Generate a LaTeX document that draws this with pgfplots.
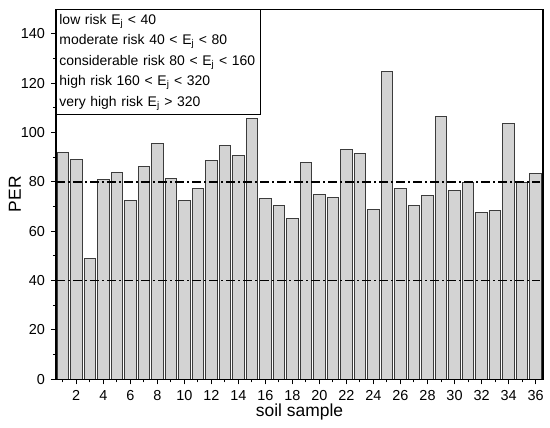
\documentclass[border=0pt]{standalone}
\usepackage{pgfplots}
\pgfplotsset{compat=1.18}
\usepackage{fontspec}
\setmainfont{Liberation Sans}
\usetikzlibrary{calc}
\definecolor{barfill}{RGB}{211,211,211}
\definecolor{baredge}{RGB}{60,60,60}
\begin{document}
\begin{tikzpicture}
\begin{axis}[name=ax, scale only axis, width=487bp, height=370bp,
  xmin=0.5, xmax=36.55, ymin=0, ymax=150,
  axis line style={line width=1.2bp},
  xtick={2,4,...,36}, minor xtick={1,3,...,35},
  ytick={0,20,...,140}, minor ytick={10,30,...,130},
  tick align=outside, tick pos=left,
  major tick length=5bp, minor tick length=3bp,
  every tick/.style={black, line width=1bp},
  ticklabel style={font=\fontsize{14.5}{16}\selectfont},
  xticklabel style={yshift=-2.5bp},
  yticklabel style={xshift=-2.5bp},
  /pgf/number format/assume math mode=true,
  xlabel={soil sample}, ylabel={PER},
  label style={font=\fontsize{17.5}{20}\selectfont},
  xlabel style={at={(axis description cs:0.5,-0.0876)}, anchor=center},
  ylabel style={at={(axis description cs:-0.0842,0.5)}, anchor=center},
  clip=false,
]
\addplot[ybar, bar width=0.85, fill=barfill, draw=baredge, line width=1bp] coordinates {
(1,91.8) (2,89.1) (3,49.1) (4,80.9) (5,83.7) (6,72.4) (7,86.4) (8,95.7) (9,81.6)
(10,72.3) (11,77.2) (12,88.7) (13,94.8) (14,90.8) (15,105.6) (16,73.4) (17,70.4) (18,65.0)
(19,87.7) (20,74.8) (21,73.5) (22,93.2) (23,91.5) (24,69.0) (25,124.9) (26,77.2) (27,70.4)
(28,74.6) (29,106.4) (30,76.5) (31,79.9) (32,67.5) (33,68.3) (34,103.5) (35,79.9) (36,83.4)
};
\addplot[black, line width=1.5bp, dash pattern=on 9bp off 3bp on 2bp off 3bp] coordinates {(0.5,80) (36.35,80)};
\addplot[black, line width=1.5bp, dash pattern=on 9bp off 3bp on 2bp off 3bp] coordinates {(0.5,40) (36.35,40)};
\end{axis}
\node[draw=black, line width=0.8bp, fill=white, anchor=north west, inner xsep=3bp, inner ysep=4.3bp, text width=198bp, align=left, font=\fontsize{14}{20.6}\selectfont] at (ax.north west) {low risk E\textsubscript{j} < 40\\moderate risk 40 < E\textsubscript{j} < 80\\considerable risk 80 < E\textsubscript{j} < 160\\high risk 160 < E\textsubscript{j} < 320\\very high risk E\textsubscript{j} > 320};
\draw[line width=1.2bp] (ax.south west) rectangle (ax.north east);
\pgfresetboundingbox
\path ($(ax.south west)+(-56bp,-48.7bp)$) rectangle ($(ax.north east)+(7bp,9.3bp)$);
\end{tikzpicture}
\end{document}
